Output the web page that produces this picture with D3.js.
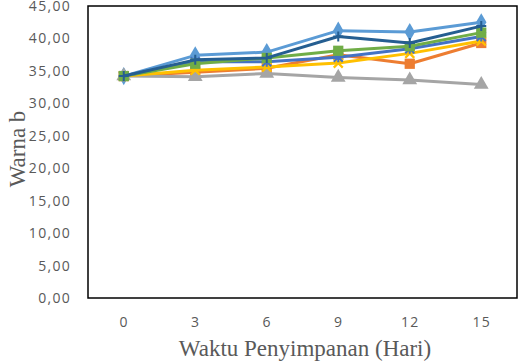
<!DOCTYPE html>
<html>
<head>
<meta charset="utf-8">
<script src="https://cdn.jsdelivr.net/npm/d3@7"></script>
<style>
body{margin:0;background:#fff;}
.tick text{font-family:"Open Sans",sans-serif;font-size:14px;fill:#595959;letter-spacing:1.3px;}
.ttl{font-family:"Liberation Serif","Times New Roman",serif;font-size:23px;fill:#595959;}
</style>
</head>
<body>
<svg id="chart" width="520" height="362"></svg>
<script>
var days = ["0","3","6","9","12","15"];
var yTicks = [0,5,10,15,20,25,30,35,40,45];

var s1 = [34.2,37.4,37.9,41.2,41.0,42.5];
var s2 = [34.2,34.8,35.4,37.5,36.1,39.3];
var s3 = [34.2,34.1,34.6,34.0,33.6,32.9];
var s4 = [34.2,35.1,35.6,36.2,37.7,39.6];
var s5 = [34.2,36.4,36.4,37.1,38.4,40.3];
var s6 = [34.2,36.1,37.0,38.1,38.8,40.9];
var s7 = [34.2,36.7,37.0,40.3,39.3,41.9];

var series = [
  {vals:s1, color:"#5B9BD5", mark:d3.symbolDiamond},
  {vals:s2, color:"#ED7D31", mark:d3.symbolSquare},
  {vals:s3, color:"#A5A5A5", mark:d3.symbolTriangle},
  {vals:s4, color:"#FFC000", mark:"x"},
  {vals:s5, color:"#4472C4", mark:"star"},
  {vals:s6, color:"#70AD47", mark:d3.symbolSquare},
  {vals:s7, color:"#255E91", mark:"plus"}
];

var svg = d3.select("#chart");
var pLeft = 88, pRight = 517, pTop = 6, pBottom = 298;

var x = d3.scalePoint().domain(days).range([pLeft, pRight]).padding(0.5);
var y = d3.scaleLinear().domain([0,45]).range([pBottom, pTop]);

// y axis labels
svg.append("g")
  .attr("transform","translate(" + pLeft + ",0)")
  .call(d3.axisLeft(y).tickValues(yTicks).tickSize(0).tickPadding(17)
    .tickFormat(function(d){ return d3.format(".2f")(d).replace(".", ","); }))
  .call(function(g){ g.select(".domain").remove(); });

// x axis labels
svg.append("g")
  .attr("transform","translate(0," + pBottom + ")")
  .call(d3.axisBottom(x).tickSize(0).tickPadding(19))
  .call(function(g){ g.select(".domain").remove(); });

var line = d3.line()
  .x(function(d,i){ return x(days[i]); })
  .y(function(d){ return y(d); });

series.forEach(function(s){
  svg.append("path")
    .attr("d", line(s.vals))
    .attr("fill","none")
    .attr("stroke", s.color)
    .attr("stroke-width", 3)
    .attr("stroke-linejoin","round");

  var g = svg.append("g");
  s.vals.forEach(function(v,i){
    var cx = x(days[i]), cy = y(v);
    if (s.mark === "x"){
      g.append("path").attr("d","M-4.5,-4.5L4.5,4.5M-4.5,4.5L4.5,-4.5")
        .attr("transform","translate(" + cx + "," + cy + ")")
        .attr("stroke", s.color).attr("stroke-width",2.2).attr("fill","none");
    } else if (s.mark === "star"){
      g.append("path").attr("d","M-4.5,-4.5L4.5,4.5M-4.5,4.5L4.5,-4.5M0,-5L0,5")
        .attr("transform","translate(" + cx + "," + cy + ")")
        .attr("stroke", s.color).attr("stroke-width",2).attr("fill","none");
    } else if (s.mark === "plus"){
      g.append("path").attr("d","M-5,0L5,0M0,-5L0,5")
        .attr("transform","translate(" + cx + "," + cy + ")")
        .attr("stroke", s.color).attr("stroke-width",2).attr("fill","none");
    } else {
      var sz = s.mark === d3.symbolSquare ? 105 : 95;
      g.append("path").attr("d", d3.symbol().type(s.mark).size(sz)())
        .attr("transform","translate(" + cx + "," + cy + ")")
        .attr("fill", s.color);
    }
  });
});

// plot frame
svg.append("rect")
  .attr("x", pLeft).attr("y", pTop)
  .attr("width", pRight - pLeft).attr("height", pBottom - pTop)
  .attr("fill","none").attr("stroke","#000").attr("stroke-width",1.5);

svg.append("text").attr("class","ttl")
  .attr("text-anchor","middle")
  .attr("transform","translate(25,149) rotate(-90)")
  .text("Warna b");

svg.append("text").attr("class","ttl")
  .attr("text-anchor","middle")
  .attr("x", 305).attr("y", 356)
  .text("Waktu Penyimpanan (Hari)");
</script>
</body>
</html>
